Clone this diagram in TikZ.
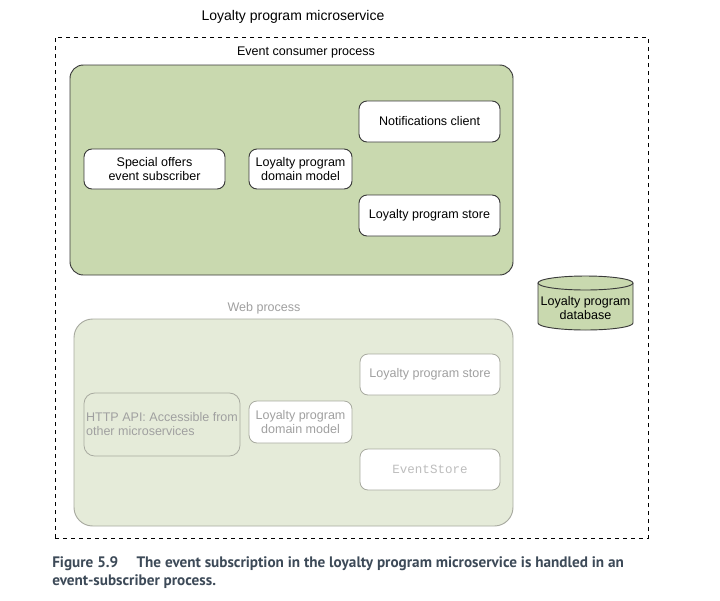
\documentclass[tikz,border=0pt]{standalone}
\usepackage{fontspec}
\setmainfont{Liberation Sans}
\newfontfamily\capfont{PT Sans}
\newfontfamily\monofont{Liberation Mono}
\definecolor{evfill}{HTML}{C9D9AF}
\definecolor{webfill}{HTML}{E5EBD9}
\definecolor{darkline}{HTML}{3A3A3A}
\definecolor{webline}{HTML}{A8AAA0}
\definecolor{graytext}{HTML}{A0A0A0}
\definecolor{lighttext}{HTML}{BDBDBD}
\definecolor{captext}{HTML}{3D4A58}
\begin{document}
\begin{tikzpicture}[x=0.75pt,y=-0.75pt,
  lbl/.style={font=\fontsize{9.4pt}{10.5pt}\selectfont, align=center, inner sep=0pt},
  evbox/.style={draw=darkline, fill=white, rounded corners=6pt, line width=0.7pt, font=\fontsize{9.4pt}{10.5pt}\selectfont, align=center, inner sep=0pt},
  webbox/.style={draw=webline, fill=white, rounded corners=6pt, line width=0.6pt, text=graytext, font=\fontsize{9.4pt}{10.5pt}\selectfont, align=center, inner sep=0pt},
  group/.style={rounded corners=10pt, line width=0.7pt, inner sep=0pt}
]
\useasboundingbox (0,0) rectangle (720,600);
\fill[white] (0,0) rectangle (720,600);

\node[font=\fontsize{10.5pt}{12pt}\selectfont, inner sep=0pt] (title) at (293,17) {Loyalty program microservice};
\node[draw=black, dashed, line width=0.5pt, minimum width=593*0.75pt, minimum height=501*0.75pt, inner sep=0pt] (outer) at (351.5,287.5) {};

\node[lbl] (evlabel) at (306,52) {Event consumer process};
\node[group, draw=darkline, fill=evfill, minimum width=443*0.75pt, minimum height=210*0.75pt] (ev) at (291.5,170) {};
\node[evbox, minimum width=141*0.75pt, minimum height=40*0.75pt] (special) at (154.5,169) {Special offers\\event subscriber};
\node[evbox, minimum width=103*0.75pt, minimum height=40*0.75pt] (domain) at (300.5,169) {Loyalty program\\domain model};
\node[evbox, minimum width=141*0.75pt, minimum height=41*0.75pt] (notif) at (429.5,121.5) {Notifications client};
\node[evbox, minimum width=141*0.75pt, minimum height=41*0.75pt] (store) at (429.5,215.5) {Loyalty program store};

% database cylinder
\draw[draw=darkline, fill=evfill, line width=0.7pt] (538,283) -- (538,323) arc[start angle=180, end angle=360, x radius=35.625pt, y radius=5.25pt] -- (633,283);
\draw[draw=darkline, fill=evfill, line width=0.7pt] (585.5,283) ellipse[x radius=35.625pt, y radius=5.25pt];
\node[lbl] (db) at (585.5,308) {Loyalty program\\database};

\node[lbl, text=graytext] (weblabel) at (264,308) {Web process};
\node[group, rounded corners=14pt, draw=webline, fill=webfill, minimum width=439*0.75pt, minimum height=207*0.75pt] (web) at (293.5,422.5) {};
\node[webbox, fill=webfill, rounded corners=8pt, minimum width=156*0.75pt, minimum height=63*0.75pt, align=left] (http) at (162,424.5) {HTTP API: Accessible from\\other microservices};
\node[webbox, minimum width=103*0.75pt, minimum height=42*0.75pt] (wdomain) at (300.5,422) {Loyalty program\\domain model};
\node[webbox, minimum width=140*0.75pt, minimum height=41*0.75pt] (wstore) at (430,374.5) {Loyalty program store};
\node[webbox, minimum width=140*0.75pt, minimum height=41*0.75pt, text=lighttext, font=\monofont\fontsize{9.4pt}{10pt}\selectfont] (evstore) at (430,469.5) {EventStore};

\node[anchor=west, inner sep=0pt, text=captext, font=\capfont\bfseries\fontsize{11.4pt}{13.5pt}\selectfont, align=left] (caption) at (52,573) {Figure 5.9\hspace{1.2em}The event subscription in the loyalty program microservice is handled in an\\event-subscriber process.};
\end{tikzpicture}
\end{document}
